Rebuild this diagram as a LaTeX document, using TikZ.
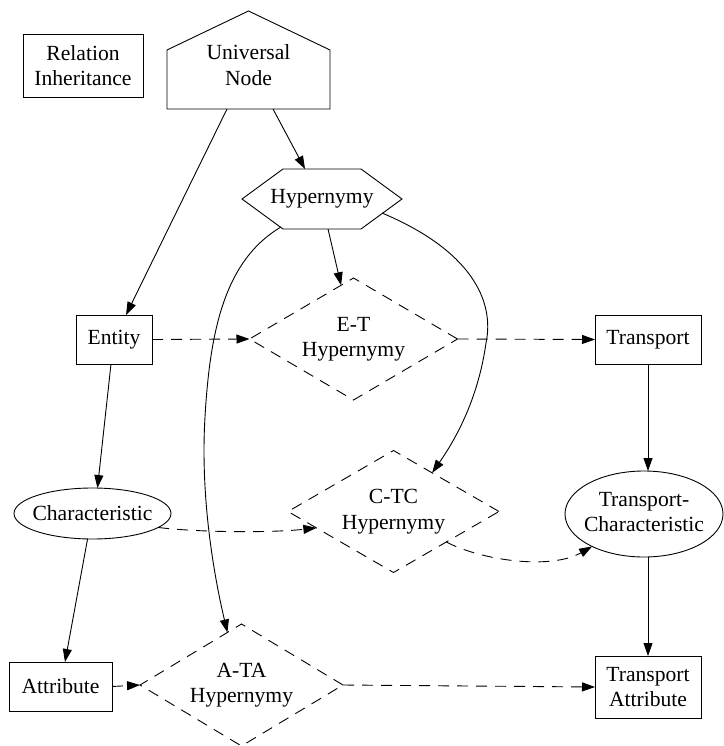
\documentclass[tikz,border=0pt]{standalone}
\usepackage{fontspec}
\setmainfont{Liberation Serif}
\usetikzlibrary{shapes.geometric,arrows.meta,calc}
\newcommand{\twoline}[2]{\makebox[0pt]{\begin{tabular}{@{}c@{}}#1\\#2\end{tabular}}}
\begin{document}
\begin{tikzpicture}[x=1pt,y=-1pt,
  every node/.style={font=\fontsize{21.6}{25.5}\selectfont, inner sep=0pt, outer sep=0pt},
  lw/.style={line width=0.9pt},
  box/.style={draw, rectangle, lw, align=center},
  oval/.style={draw, ellipse, lw},
  relnode/.style={draw, diamond, lw, dashdot},
  dashdot/.style={dash pattern=on 11pt off 8pt},
  edge/.style={lw, -{Triangle[length=13pt,width=9pt]}},
  dedge/.style={edge, dashdot},
]
\useasboundingbox (0,0) rectangle (723,746);

% nodes
\node[box, minimum width=120pt, minimum height=63pt] (ri) at (83,65.5) {Relation\\Inheritance};
\node[minimum width=163pt, minimum height=88pt, align=center] (univ) at (248.5,65) {Universal\\Node};
\draw[lw] (univ.south west) -- (univ.south east) -- ($(univ.north east)+(0,29)$)
  -- ($(univ.north)+(0,-10)$) -- ($(univ.north west)+(0,29)$) -- cycle;

\node[minimum width=160pt, minimum height=60pt] (hyp) at (322,199) {Hypernymy};
\draw[lw] (hyp.west) -- ($(hyp.north west)+(41,0)$) -- ($(hyp.north east)+(-41,0)$)
  -- (hyp.east) -- ($(hyp.south east)+(-41,0)$) -- ($(hyp.south west)+(41,0)$) -- cycle;

\node[box, minimum width=76pt, minimum height=49pt] (entity) at (114,339.5) {Entity};
\node[relnode, minimum width=208pt, minimum height=122pt] (et) at (353.5,339) {\twoline{E-T}{Hypernymy}};
\node[box, minimum width=106pt, minimum height=49pt] (transport) at (648,339.5) {Transport};

\node[oval, minimum width=157pt, minimum height=51pt] (char) at (92.5,513.5) {\makebox[0pt]{Characteristic}};
\node[relnode, minimum width=211pt, minimum height=122pt] (ctc) at (393.5,511.5) {\twoline{C-TC}{Hypernymy}};
\node[oval, minimum width=158pt, minimum height=86pt] (tc) at (644,514) {\twoline{Transport-}{Characteristic}};

\node[box, minimum width=103pt, minimum height=49pt] (attr) at (60.5,686.5) {Attribute};
\node[relnode, minimum width=203pt, minimum height=122pt] (ata) at (241.5,685) {\twoline{A-TA}{Hypernymy}};
\node[box, minimum width=106pt, minimum height=62pt] (ta) at (648,687) {Transport\\Attribute};

% connectors
\draw[edge] ($(univ.south)+(-21.5,0)$) -- ($(entity.north)+(12,0)$);
\draw[edge] ($(univ.south)+(24.5,0)$) -- ($(hyp.north)+(-17,0)$);
\draw[edge] ($(hyp.south)+(6,0)$) -- (et.103);
\draw[edge] ($(hyp.center)+(60,14)$) .. controls (470,250) and (495,300) .. (486,343)
  .. controls (478,400) and (455,440) .. (ctc.45);
\draw[edge] ($(hyp.center)+(-41,28)$) .. controls (225,260) and (210,330) .. (205,417)
  .. controls (200,500) and (215,580) .. (ata.105);

\draw[dedge] (entity.east) -- (et.west);
\draw[dedge] (et.east) -- (transport.west);
\draw[edge] ($(entity.south)+(-3,0)$) -- (char.79);
\draw[dedge] (char.-12) .. controls +(40,5) and +(-45,5) .. (ctc.192);
\draw[edge] (transport.south) -- (transport.south |- tc.north);
\draw[dedge] (ctc.-30) .. controls +(34,18) and +(-42,24) .. (tc.-148);
\draw[edge] (char.-101) -- ($(attr.north)+(4.5,0)$);
\draw[dedge] (attr.east) -- (ata.west);
\draw[dedge] (ata.east) -- (ta.west);
\draw[edge] (ta.north |- tc.south) -- (ta.north);
\end{tikzpicture}
\end{document}
